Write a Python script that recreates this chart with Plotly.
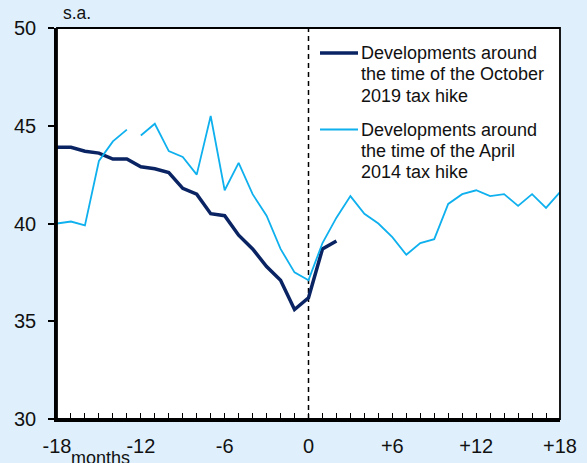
import plotly.graph_objects as go

# Months relative to the consumption tax hike (0 = month of the hike)
months_2019 = list(range(-18, 3))
oct2019 = [43.9, 43.9, 43.7, 43.6, 43.3, 43.3, 42.9, 42.8, 42.6, 41.8, 41.5,
           40.5, 40.4, 39.4, 38.7, 37.8, 37.1, 35.6, 36.2, 38.7, 39.1]

months_2014 = list(range(-18, 19))
apr2014 = [40.0, 40.1, 39.9, 43.2, 44.2, 44.8, 44.5, 45.1, 43.7, 43.4, 42.5,
           45.5, 41.7, 43.1, 41.5, 40.4, 38.7, 37.5, 37.1, 39.0, 40.3, 41.4,
           40.5, 40.0, 39.3, 38.4, 39.0, 39.2, 41.0, 41.5, 41.7, 41.4, 41.5,
           40.9, 41.5, 40.8, 41.6]
# the 2014 series is discontinuous after this month
break_after = -13

x_tick_vals = [-18, -12, -6, 0, 6, 12, 18]
x_tick_text = ["-18", "-12", "-6", "0", "+6", "+12", "+18"]
y_tick_vals = [30, 35, 40, 45, 50]

legend_2019 = ["Developments around", "the time of the October", "2019 tax hike"]
legend_2014 = ["Developments around", "the time of the April", "2014 tax hike"]

DARK = "#0a2463"
LIGHT = "#0fb0ee"
BG = "#dff0fc"
FONT = "Liberation Sans, Arial, sans-serif"

W, H = 587, 463
ML, MR, MT, MB = 57, 27, 28, 44
PW, PH = W - ML - MR, H - MT - MB


def px_x(px):
    """Page pixel x -> paper fraction of the plot area."""
    return (px - ML) / PW


def px_y(py):
    """Page pixel y (from top) -> paper fraction of the plot area."""
    return (H - MB - py) / PH


# insert a gap into the 2014 line at the series break
x14, y14 = [], []
for m, v in zip(months_2014, apr2014):
    x14.append(m)
    y14.append(v)
    if m == break_after:
        x14.append(m + 0.5)
        y14.append(None)

fig = go.Figure()
fig.add_trace(go.Scatter(
    x=months_2019, y=oct2019, mode="lines", name="October 2019",
    line=dict(color=DARK, width=3.5), showlegend=False,
))
fig.add_trace(go.Scatter(
    x=x14, y=y14, mode="lines", name="April 2014", connectgaps=False,
    line=dict(color=LIGHT, width=1.8), showlegend=False,
))

all_months = list(range(-18, 19))
tick_text_all = [x_tick_text[x_tick_vals.index(m)] if m in x_tick_vals else ""
                 for m in all_months]

shapes = [
    dict(type="rect", xref="paper", yref="paper", x0=0, x1=1, y0=0, y1=1,
         line=dict(color="black", width=1.8), layer="above"),
    dict(type="line", xref="x", yref="paper", x0=0, x1=0, y0=0, y1=1,
         line=dict(color="black", width=1.5, dash="5px,4px"), layer="below"),
]
annotations = [
    dict(text="s.a.", xref="paper", yref="paper", x=px_x(61), y=1,
         xanchor="left", yanchor="bottom", yshift=3, showarrow=False,
         font=dict(size=17.5)),
    dict(text="months", xref="paper", yref="paper", x=px_x(100), y=0,
         xanchor="center", yanchor="top", yshift=-27, showarrow=False,
         font=dict(size=18)),
]

# legend: a sample line followed by three lines of text per series
LEG_LINE_X0, LEG_LINE_X1, LEG_TEXT_X = 320, 358, 359
LINE_STEP = 21.3
for lines, color, width, y_first in [(legend_2019, DARK, 3.5, 53),
                                     (legend_2014, LIGHT, 1.8, 129.5)]:
    shapes.append(dict(type="line", xref="paper", yref="paper",
                       x0=px_x(LEG_LINE_X0), x1=px_x(LEG_LINE_X1),
                       y0=px_y(y_first), y1=px_y(y_first),
                       line=dict(color=color, width=width)))
    for i, txt in enumerate(lines):
        annotations.append(dict(
            text=txt, xref="paper", yref="paper",
            x=px_x(LEG_TEXT_X), y=px_y(y_first + i * LINE_STEP),
            xanchor="left", yanchor="middle", showarrow=False,
            font=dict(size=18)))

fig.update_layout(
    width=W, height=H,
    margin=dict(l=ML, r=MR, t=MT, b=MB, pad=0, autoexpand=False),
    paper_bgcolor=BG, plot_bgcolor="white",
    font=dict(family=FONT, color="#111111", size=20),
    showlegend=False,
    xaxis=dict(
        range=[-18, 18], tickmode="array", tickvals=all_months,
        ticktext=tick_text_all, ticks="inside", ticklen=6, tickwidth=1.3,
        tickcolor="black", showline=True, linewidth=2.5, linecolor="black",
        showgrid=False, zeroline=False, tickfont=dict(size=20),
        ticklabelstandoff=7, automargin=False,
    ),
    yaxis=dict(
        range=[30, 50], tickmode="array", tickvals=y_tick_vals,
        ticks="outside", ticklen=6, tickwidth=1.5, tickcolor="black",
        showline=True, linewidth=2.5, linecolor="black",
        showgrid=False, zeroline=False, tickfont=dict(size=20),
        ticklabelstandoff=8, automargin=False,
    ),
    shapes=shapes,
    annotations=annotations,
)

fig.write_html("out.html")
